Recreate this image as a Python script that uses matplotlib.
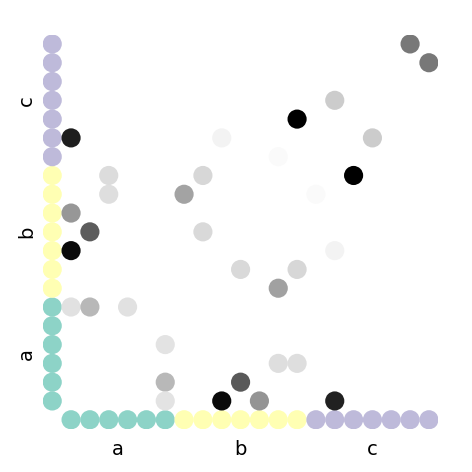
import matplotlib
matplotlib.use("Agg")
import matplotlib.pyplot as plt
import numpy as np

groups = ["a", "b", "c"]
group_sizes = [6, 7, 7]
group_colors = ["#8dd3c7", "#ffffb3", "#bebada"]

# nonzero matrix cells: column index, row index, value (0..1, darker = higher)
cell_cols = [0, 1, 3, 5, 5, 5, 8, 9, 11, 11, 12, 10, 14, 0, 8, 2, 7, 2, 6, 0, 1, 7, 0, 9, 18, 19, 14, 12, 16, 11, 15, 13, 14, 12]
cell_rows = [5, 5, 5, 3, 1, 0, 0, 1, 6, 2, 2, 0, 0, 14, 14, 12, 12, 11, 11, 10, 9, 9, 8, 7, 19, 18, 16, 15, 14, 13, 12, 11, 8, 7]
cell_vals = [0.12, 0.28, 0.12, 0.11, 0.28, 0.11, 0.96, 0.65, 0.37, 0.13, 0.13, 0.42, 0.87, 0.88, 0.05, 0.14,
             0.16, 0.13, 0.36, 0.41, 0.64, 0.15, 0.96, 0.15, 0.53, 0.53, 0.20, 1.00, 0.20, 0.02, 1.00, 0.02, 0.05, 0.16]

fig = plt.figure(figsize=(4.72, 4.72), dpi=100)
ax = fig.add_axes([0.0907, 0.0908, 0.838, 0.836])

n = sum(group_sizes)
idx = np.arange(n)
labels_per = np.repeat(np.arange(len(groups)), group_sizes)
colors = [group_colors[k] for k in labels_per]

S = 190
# category strips
ax.scatter(idx, np.full(n, -1), s=S, c=colors, linewidths=0)
ax.scatter(np.full(n, -1), idx, s=S, c=colors, linewidths=0)

# matrix cells
ax.scatter(cell_cols, cell_rows, s=S, c=cell_vals, cmap="gray_r", vmin=0, vmax=1, linewidths=0)

ax.set_xlim(-1.5, n - 0.5)
ax.set_ylim(-1.5, n - 0.5)

starts = np.cumsum([0] + group_sizes[:-1])
centers = [s + (g - 1) / 2 for s, g in zip(starts, group_sizes)]
ax.set_xticks(centers)
ax.set_xticklabels(groups, fontsize=14)
ax.set_yticks(centers)
ax.set_yticklabels(groups, fontsize=14, rotation=90, va="center")
ax.tick_params(axis="x", length=0, pad=8)
ax.tick_params(axis="y", length=0, pad=5)
for sp in ax.spines.values():
    sp.set_visible(False)

fig.savefig("out.png", dpi=100)
